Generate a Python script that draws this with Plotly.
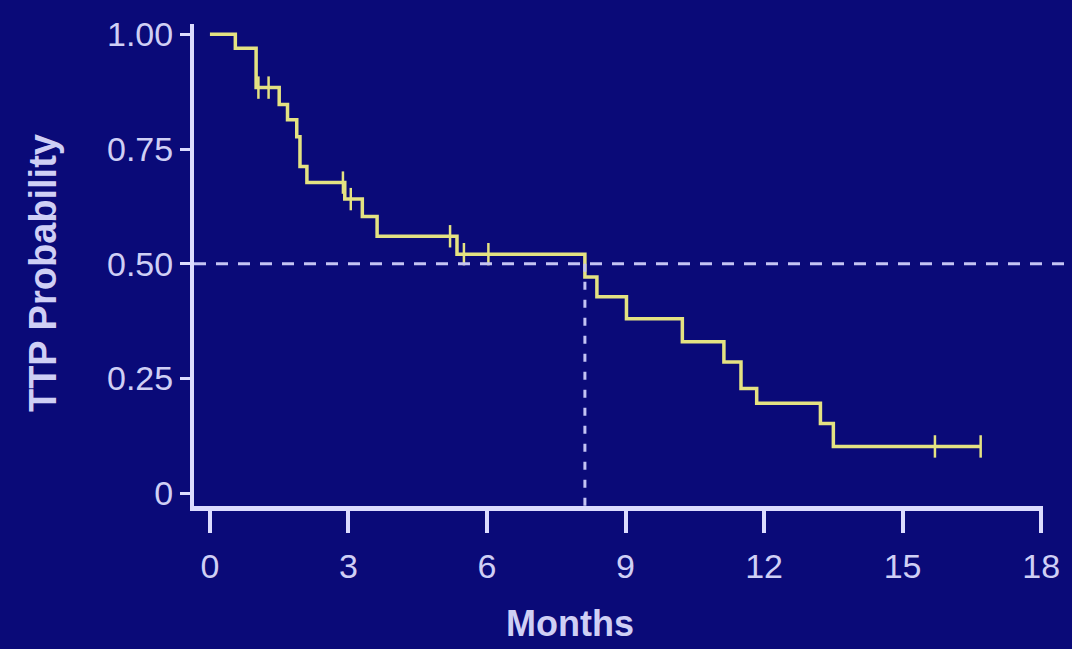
import plotly.graph_objects as go

# Kaplan-Meier step data (months, TTP probability)
step_months = [0, 0.55, 1.0, 1.5, 1.68, 1.88, 1.95, 2.1, 2.92, 3.3, 3.62, 5.35, 8.12, 8.38, 9.02, 10.23, 11.13, 11.5, 11.84, 13.22, 13.5, 16.69]
step_prob = [1.0, 0.970, 0.884, 0.847, 0.814, 0.777, 0.712, 0.677, 0.641, 0.603, 0.560, 0.521, 0.471, 0.428, 0.380, 0.330, 0.286, 0.228, 0.196, 0.152, 0.102, 0.102]

# censored observations
censor_months = [1.05, 1.27, 2.88, 3.05, 5.2, 5.5, 6.03, 15.7, 16.69]
censor_prob = [0.884, 0.884, 0.677, 0.641, 0.560, 0.521, 0.521, 0.102, 0.102]

median_prob = 0.5
median_months = 8.12

x_ticks = [0, 3, 6, 9, 12, 15, 18]
y_ticks = [0, 0.25, 0.5, 0.75, 1.0]
y_ticktext = ["0", "0.25", "0.50", "0.75", "1.00"]

bg = "#0a0a78"
axis_col = "#dcdcff"
label_col = "#cfcff5"
curve_col = "#e4e282"
font_family = "Liberation Sans, Arial, sans-serif"

fig = go.Figure()
fig.add_trace(go.Scatter(
    x=step_months, y=step_prob, mode="lines",
    line=dict(shape="hv", color=curve_col, width=3.5),
    hoverinfo="skip", showlegend=False,
))
fig.add_trace(go.Scatter(
    x=censor_months, y=censor_prob, mode="markers",
    marker=dict(symbol="line-ns", size=16, line=dict(color=curve_col, width=2.5)),
    hoverinfo="skip", showlegend=False,
))

# median lines
fig.add_shape(type="line", xref="paper", yref="y", x0=0, x1=1.04,
              y0=median_prob, y1=median_prob,
              line=dict(color="#c4c4f4", width=3, dash="12px,10px"))
fig.add_shape(type="line", xref="x", yref="y", x0=median_months, x1=median_months,
              y0=median_prob, y1=-0.028,
              line=dict(color="#c4c4f4", width=3, dash="8px,10px"))

fig.add_annotation(text="<b>TTP Probability</b>", xref="paper", yref="paper",
                   x=-0.178, y=0.483, xanchor="center", yanchor="middle",
                   textangle=-90, showarrow=False,
                   font=dict(family=font_family, size=38, color=label_col))
fig.add_annotation(text="<b>Months</b>", xref="paper", yref="paper",
                   x=0.4426, y=-0.243, xanchor="center", yanchor="middle",
                   showarrow=False,
                   font=dict(family=font_family, size=36, color=label_col))

fig.update_layout(
    width=1072, height=649,
    margin=dict(l=194, r=26, t=24, b=143, pad=0),
    paper_bgcolor=bg, plot_bgcolor=bg,
    showlegend=False,
)
fig.update_xaxes(
    range=[-0.345, 18.04], tickvals=x_ticks, ticktext=[str(v) for v in x_ticks],
    showgrid=False, zeroline=False, showline=True, linecolor=axis_col, linewidth=5,
    ticks="outside", ticklen=22, tickwidth=4, tickcolor=axis_col,
    ticklabelstandoff=4,
    tickfont=dict(family=font_family, size=34, color=label_col),
)
fig.update_yaxes(
    range=[-0.0278, 1.0226], tickvals=y_ticks, ticktext=y_ticktext,
    showgrid=False, zeroline=False, showline=True, linecolor=axis_col, linewidth=4,
    ticks="outside", ticklen=10, tickwidth=3, tickcolor=axis_col,
    tickfont=dict(family=font_family, size=34, color=label_col),
)

fig.write_html(
    "out.html",
    config={"displayModeBar": False},
    post_script="document.body.style.margin='0';document.body.style.background='%s';" % bg,
)
